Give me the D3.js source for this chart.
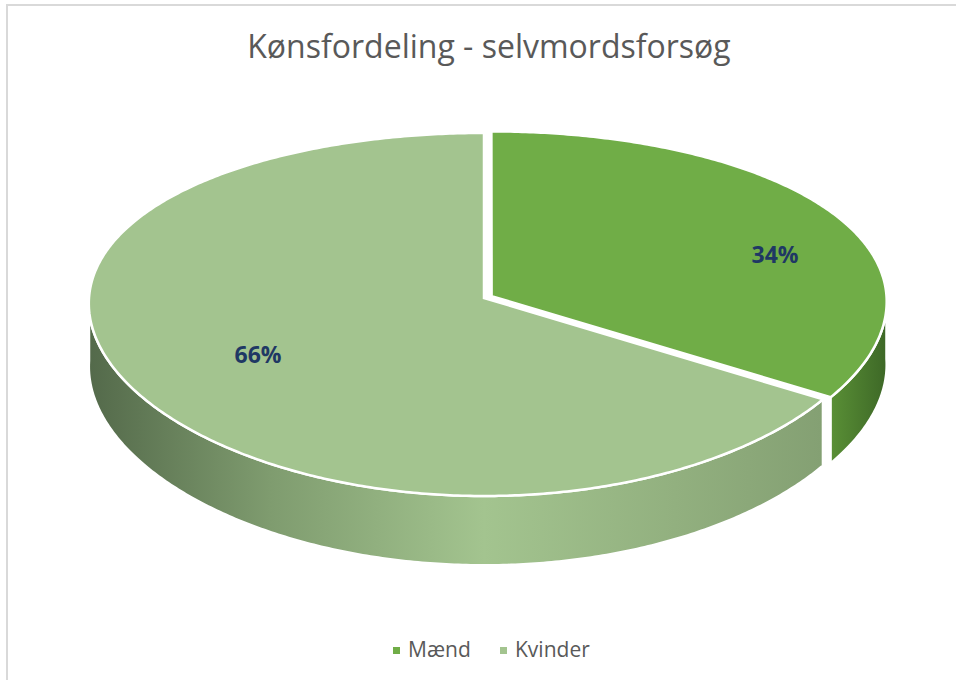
<!DOCTYPE html>
<html>
<head>
<meta charset="utf-8">
<script src="https://cdn.jsdelivr.net/npm/d3@7"></script>
<style>
  html, body { margin: 0; padding: 0; background: #fff; }
  svg { display: block; }
</style>
</head>
<body>
<svg id="chart" width="956" height="680"></svg>
<script>
// chart data
var categories = ["Mænd", "Kvinder"];
var shares = [34, 66];
var pctLabels = ["34%", "66%"];
var chartTitle = "Kønsfordeling - selvmordsforsøg";

var W = 956, H = 680;
var svg = d3.select("#chart");

// 3d ellipse settings
var cx = 484, cy = 298;
var rx = 395, ry = 180;
var k = 0.0909;   // perspective (vertical)
var kx = 0.03;    // perspective (horizontal)
var depth = 63;
var explode = 0.022;

var topColor = d3.scaleOrdinal().domain(categories).range(["#70ad47", "#a3c48f"]);

var pie = d3.pie().sort(null).value(d => d.value)
  .startAngle(0).endAngle(2 * Math.PI);
var arcs = pie(categories.map((c, i) => ({ name: c, value: shares[i] })));

function proj(t, r, z, ox, oy) {
  var X = r * Math.sin(t) + ox;
  var D = r * Math.cos(t) + oy;
  var d = 1 + k * D;
  var dx = 1 + kx * D;
  return [cx + rx * X / dx, cy - ry * D / d + z * depth / d];
}

function offsetOf(a, i) {
  if (i !== 0) return [0, 0];
  var mid = (a.startAngle + a.endAngle) / 2;
  return [explode * Math.sin(mid), explode * Math.cos(mid)];
}

function sampleAngles(a0, a1) {
  var n = Math.max(2, Math.ceil((a1 - a0) / 0.01));
  return d3.range(n + 1).map(j => a0 + (a1 - a0) * j / n);
}

var defs = svg.append("defs");

// gradients for the sides
var gradSpecs = [
  { id: "side0", x1: 826, x2: 889, stops: [["0%", "#5c9337"], ["100%", "#3c6626"]] },
  { id: "side1", x1: 87, x2: 822, stops: [["0%", "#53694a"], ["25%", "#7f9c6f"], ["54%", "#a3c48f"], ["80%", "#92b07f"], ["100%", "#84a073"]] }
];
gradSpecs.forEach(g => {
  var lg = defs.append("linearGradient").attr("id", g.id)
    .attr("gradientUnits", "userSpaceOnUse")
    .attr("x1", g.x1).attr("x2", g.x2).attr("y1", 0).attr("y2", 0);
  g.stops.forEach(s => lg.append("stop").attr("offset", s[0]).attr("stop-color", s[1]));
});

// outer border
svg.append("rect")
  .attr("x", 7).attr("y", 5).attr("width", W + 10).attr("height", H + 10)
  .attr("fill", "none").attr("stroke", "#d9d9d9").attr("stroke-width", 2);

var line = d3.line();
var g = svg.append("g");

arcs.forEach((a, i) => {
  var off = offsetOf(a, i);
  // visible outer side: near half
  var s0 = Math.max(a.startAngle, Math.PI / 2);
  var s1 = Math.min(a.endAngle, 3 * Math.PI / 2);
  if (s1 > s0) {
    var angs = sampleAngles(s0, s1);
    var topPts = angs.map(t => proj(t, 1, 0, off[0], off[1]));
    var botPts = angs.slice().reverse().map(t => proj(t, 1, 1, off[0], off[1]));
    g.append("path")
      .attr("d", line(topPts.concat(botPts)) + "Z")
      .attr("fill", "url(#side" + i + ")")
      .attr("stroke", "#fff").attr("stroke-width", 2.5)
      .attr("stroke-linejoin", "round");
  }
  // top face
  var pts = [proj(0, 0, 0, off[0], off[1])]
    .concat(sampleAngles(a.startAngle, a.endAngle).map(t => proj(t, 1, 0, off[0], off[1])));
  g.append("path")
    .attr("d", line(pts) + "Z")
    .attr("fill", topColor(a.data.name))
    .attr("stroke", "#fff").attr("stroke-width", 2.5)
    .attr("stroke-linejoin", "miter");
});

// data labels
var labelPos = [[775, 263], [258, 363]];
svg.selectAll("text.lbl").data(pctLabels).enter().append("text")
  .attr("class", "lbl")
  .attr("x", (d, i) => labelPos[i][0]).attr("y", (d, i) => labelPos[i][1])
  .attr("text-anchor", "middle")
  .attr("font-family", "'Open Sans', sans-serif")
  .attr("font-weight", "bold").attr("font-size", 23)
  .attr("fill", "#1f3864")
  .text(d => d);

// title
svg.append("text")
  .attr("x", 489).attr("y", 58)
  .attr("text-anchor", "middle")
  .attr("font-family", "'Open Sans', sans-serif")
  .attr("font-size", 32)
  .attr("fill", "#595959")
  .text(chartTitle);

// legend
var legendX = [393, 500];
var leg = svg.selectAll("g.leg").data(categories).enter().append("g")
  .attr("class", "leg")
  .attr("transform", (d, i) => "translate(" + legendX[i] + ",0)");
leg.append("rect")
  .attr("x", 0).attr("y", 647).attr("width", 7).attr("height", 7)
  .attr("fill", d => topColor(d));
leg.append("text")
  .attr("x", 15).attr("y", 657)
  .attr("font-family", "'Open Sans', sans-serif")
  .attr("font-size", 21)
  .attr("fill", "#595959")
  .text(d => d);
</script>
</body>
</html>
